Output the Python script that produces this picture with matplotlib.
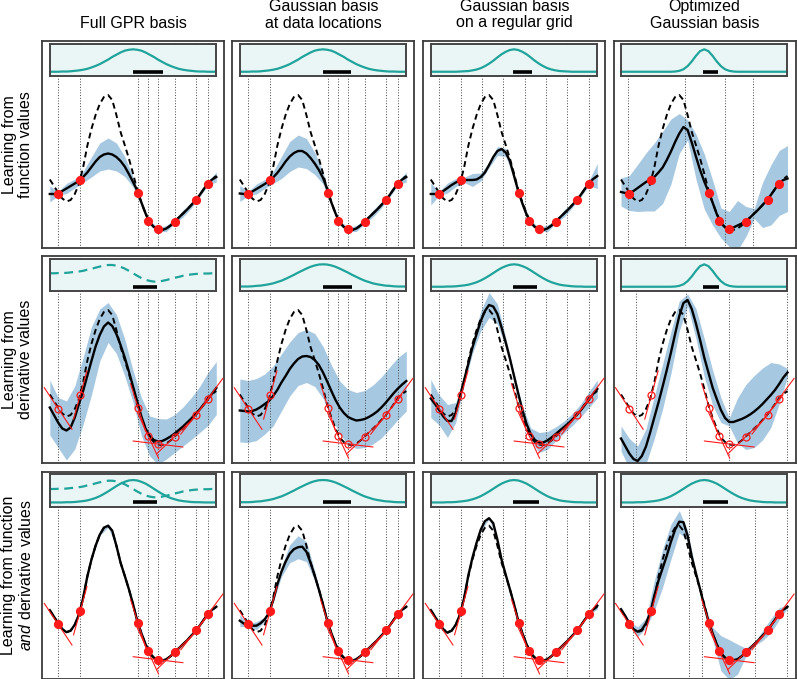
import numpy as np
import matplotlib.pyplot as plt

plt.rcParams['font.family'] = ['Liberation Sans', 'DejaVu Sans']
plt.rcParams['mathtext.fontset'] = 'custom'
plt.rcParams['mathtext.rm'] = 'Liberation Sans'
plt.rcParams['mathtext.it'] = 'Liberation Sans:italic'

X = np.linspace(0, 10, 41)
XS = X[::2]

COL_TITLES = ['Full GPR basis', 'Gaussian basis\nat data locations',
              'Gaussian basis\non a regular grid', 'Optimized\nGaussian basis']
ROW_LABELS = ['Learning from\nfunction values', 'Learning from\nderivative values',
              'Learning from function\n$\\mathit{and}$ derivative values']

# training data (same in every panel)
DATA_X = [0.5, 1.83, 5.3, 5.9, 6.5, 7.5, 8.8, 9.5]
DATA_Y = [0.73, 1.00, 0.75, 0.19, 0.02, 0.17, 0.61, 0.93]
DATA_SLOPE = [-0.5, 1.2, -1.05, -0.72, -0.04, 0.32, 0.42, 0.45]

# basis centres (dotted lines)
GRID_X = [0.5, 1.79, 3.07, 4.36, 5.64, 6.93, 8.21, 9.5]
OPT_X_1 = [0.44, 3.84, 6.27, 7.93]
OPT_X_2 = [0.9, 3.9, 6.5, 9.97]
OPT_X_3 = [0.7, 4.06, 4.87, 8.02, 9.98]

TRUE_F = [1.01, 0.88, 0.75, 0.63, 0.57, 0.60, 0.72, 0.92, 1.25, 1.68,
          2.02, 2.30, 2.52, 2.66, 2.70, 2.60, 2.30, 1.96, 1.70, 1.43,
          1.13, 0.80, 0.55, 0.33, 0.15, 0.06, 0.01, 0.00, 0.03, 0.09,
          0.17, 0.25, 0.33, 0.41, 0.50, 0.59, 0.70, 0.82, 0.94, 1.02,
          1.08]

MEAN_11 = [0.72, 0.72, 0.73, 0.78, 0.83, 0.88, 0.93, 0.98, 1.06, 1.15,
           1.26, 1.37, 1.46, 1.51, 1.53, 1.51, 1.46, 1.38, 1.27, 1.12,
           0.96, 0.79, 0.55, 0.33, 0.15, 0.06, 0.01, 0.00, 0.03, 0.09,
           0.17, 0.25, 0.33, 0.41, 0.50, 0.59, 0.70, 0.82, 0.94, 1.01,
           1.06]
SD_11 = [0.16, 0.04, 0.10, 0.09, 0.11, 0.20, 0.28, 0.31, 0.28, 0.20,
         0.10, 0.04, 0.04, 0.04, 0.06, 0.04, 0.07, 0.06, 0.04, 0.04,
         0.10]

MEAN_12 = [0.73, 0.72, 0.73, 0.77, 0.82, 0.87, 0.92, 0.98, 1.05, 1.14,
           1.25, 1.37, 1.47, 1.54, 1.58, 1.58, 1.53, 1.44, 1.33, 1.20,
           1.04, 0.82, 0.55, 0.33, 0.15, 0.06, 0.01, 0.00, 0.03, 0.09,
           0.17, 0.25, 0.33, 0.41, 0.50, 0.59, 0.70, 0.82, 0.94, 1.01,
           1.06]
SD_12 = [0.16, 0.04, 0.10, 0.09, 0.12, 0.22, 0.30, 0.32, 0.30, 0.22,
         0.12, 0.04, 0.04, 0.04, 0.06, 0.04, 0.07, 0.06, 0.04, 0.04,
         0.10]

MEAN_13 = [0.72, 0.72, 0.73, 0.78, 0.84, 0.90, 0.95, 0.99, 1.00, 1.00,
           1.00, 1.01, 1.06, 1.15, 1.30, 1.46, 1.58, 1.62, 1.55, 1.38,
           1.08, 0.78, 0.53, 0.31, 0.15, 0.06, 0.02, 0.00, 0.03, 0.09,
           0.17, 0.25, 0.33, 0.41, 0.50, 0.59, 0.70, 0.82, 0.94, 1.02,
           1.08]
SD_13 = [0.22, 0.04, 0.10, 0.08, 0.05, 0.13, 0.08, 0.05, 0.09, 0.08,
         0.05, 0.04, 0.04, 0.03, 0.07, 0.03, 0.07, 0.05, 0.04, 0.05,
         0.25]

MEAN_14 = [0.76, 0.74, 0.74, 0.78, 0.84, 0.90, 0.96, 1.00, 1.06, 1.15,
           1.25, 1.40, 1.57, 1.76, 1.93, 2.06, 2.00, 1.75, 1.47, 1.20,
           0.97, 0.77, 0.55, 0.32, 0.14, 0.05, 0.02, 0.05, 0.09, 0.13,
           0.17, 0.25, 0.33, 0.41, 0.50, 0.59, 0.70, 0.82, 0.94, 1.00,
           1.03]
SD_14 = [0.28, 0.35, 0.47, 0.58, 0.68, 0.72, 0.65, 0.40, 0.20, 0.45,
         0.55, 0.45, 0.30, 0.35, 0.50, 0.30, 0.10, 0.45, 0.60, 0.65,
         0.66]

MEAN_21 = [0.75, 0.60, 0.45, 0.33, 0.29, 0.35, 0.55, 0.82, 1.08, 1.38,
           1.68, 1.97, 2.20, 2.37, 2.45, 2.38, 2.22, 2.00, 1.75, 1.47,
           1.17, 0.87, 0.57, 0.33, 0.18, 0.10, 0.07, 0.08, 0.12, 0.17,
           0.23, 0.30, 0.37, 0.45, 0.53, 0.62, 0.71, 0.81, 0.92, 1.03,
           1.14]
SD_21 = [0.55, 0.50, 0.59, 0.63, 0.67, 0.68, 0.52, 0.40, 0.39, 0.37,
         0.32, 0.38, 0.40, 0.46, 0.40, 0.38, 0.39, 0.42, 0.46, 0.53,
         0.53]

MEAN_22 = [0.69, 0.68, 0.67, 0.68, 0.71, 0.76, 0.82, 0.88, 0.98, 1.10,
           1.25, 1.38, 1.52, 1.63, 1.72, 1.77, 1.78, 1.76, 1.70, 1.60,
           1.45, 1.27, 1.08, 0.90, 0.75, 0.64, 0.56, 0.52, 0.49, 0.50,
           0.52, 0.56, 0.61, 0.67, 0.75, 0.84, 0.94, 1.04, 1.13, 1.21,
           1.28]
SD_22 = [0.63, 0.62, 0.62, 0.60, 0.60, 0.57, 0.54, 0.53, 0.53, 0.53,
         0.52, 0.52, 0.53, 0.55, 0.56, 0.57, 0.59, 0.61, 0.62, 0.62,
         0.60]

MEAN_23 = [0.93, 0.82, 0.70, 0.57, 0.48, 0.48, 0.65, 0.97, 1.30, 1.62,
           1.95, 2.22, 2.48, 2.68, 2.80, 2.77, 2.62, 2.35, 2.05, 1.73,
           1.38, 1.03, 0.70, 0.42, 0.22, 0.10, 0.05, 0.05, 0.09, 0.15,
           0.22, 0.29, 0.36, 0.43, 0.51, 0.60, 0.69, 0.80, 0.91, 1.02,
           1.12]
SD_23 = [0.38, 0.30, 0.33, 0.20, 0.10, 0.12, 0.20, 0.25, 0.20, 0.10,
         0.06, 0.08, 0.12, 0.20, 0.18, 0.14, 0.12, 0.12, 0.13, 0.16,
         0.18]

MEAN_24 = [0.13, -0.02, -0.17, -0.28, -0.32, -0.22, -0.03, 0.25, 0.55, 0.85,
           1.17, 1.50, 1.85, 2.22, 2.58, 2.84, 2.90, 2.72, 2.43, 2.10,
           1.75, 1.45, 1.15, 0.92, 0.70, 0.54, 0.46, 0.46, 0.49, 0.52,
           0.56, 0.61, 0.67, 0.74, 0.82, 0.91, 1.00, 1.10, 1.22, 1.35,
           1.45]
SD_24 = [0.25, 0.30, 0.30, 0.35, 0.42, 0.45, 0.42, 0.30, 0.12, 0.30,
         0.38, 0.35, 0.25, 0.08, 0.45, 0.65, 0.72, 0.72, 0.65, 0.40,
         0.08]

MEAN_31 = TRUE_F
SD_31 = [0.02, 0.01, 0.01, 0.01, 0.01, 0.01, 0.02, 0.03, 0.02, 0.01,
         0.01, 0.01, 0.01, 0.01, 0.01, 0.01, 0.01, 0.01, 0.01, 0.01,
         0.02]

MEAN_32 = [0.80, 0.74, 0.72, 0.70, 0.70, 0.75, 0.83, 0.95, 1.20, 1.52,
           1.78, 1.98, 2.14, 2.23, 2.27, 2.28, 2.18, 1.96, 1.70, 1.42,
           1.12, 0.80, 0.55, 0.33, 0.15, 0.06, 0.01, 0.00, 0.03, 0.09,
           0.17, 0.25, 0.33, 0.41, 0.50, 0.59, 0.70, 0.82, 0.94, 1.02,
           1.08]
SD_32 = [0.12, 0.03, 0.08, 0.04, 0.03, 0.10, 0.18, 0.23, 0.20, 0.10,
         0.03, 0.01, 0.01, 0.01, 0.01, 0.01, 0.01, 0.01, 0.01, 0.01,
         0.02]

MEAN_33 = [1.01, 0.88, 0.75, 0.62, 0.56, 0.60, 0.72, 0.92, 1.25, 1.70,
           2.06, 2.36, 2.62, 2.79, 2.85, 2.75, 2.42, 2.02, 1.72, 1.43,
           1.13, 0.80, 0.55, 0.33, 0.15, 0.06, 0.01, 0.00, 0.03, 0.09,
           0.17, 0.25, 0.33, 0.41, 0.50, 0.59, 0.70, 0.82, 0.94, 1.02,
           1.10]
SD_33 = [0.05, 0.01, 0.02, 0.01, 0.01, 0.01, 0.02, 0.02, 0.02, 0.01,
         0.01, 0.01, 0.01, 0.01, 0.01, 0.01, 0.01, 0.01, 0.01, 0.01,
         0.07]

MEAN_34 = [1.03, 0.90, 0.75, 0.63, 0.58, 0.62, 0.75, 0.95, 1.30, 1.60,
           1.85, 2.10, 2.38, 2.62, 2.78, 2.77, 2.50, 2.08, 1.75, 1.43,
           1.10, 0.79, 0.55, 0.33, 0.15, 0.06, 0.02, 0.01, 0.03, 0.09,
           0.17, 0.25, 0.33, 0.41, 0.50, 0.59, 0.70, 0.82, 0.94, 1.02,
           1.08]
SD_34 = [0.03, 0.03, 0.10, 0.10, 0.30, 0.38, 0.35, 0.22, 0.10, 0.04,
         0.03, 0.12, 0.35, 0.40, 0.30, 0.08, 0.03, 0.10, 0.14, 0.12,
         0.03]

# basis functions shown in the insets (relative height, same x grid)
BASIS_WIDE = [0.01, 0.01, 0.01, 0.02, 0.04, 0.05, 0.08, 0.11, 0.15, 0.21,
              0.27, 0.35, 0.44, 0.53, 0.63, 0.72, 0.81, 0.89, 0.95, 0.99,
              1.00, 0.99, 0.95, 0.89, 0.81, 0.72, 0.63, 0.53, 0.44, 0.35,
              0.27, 0.21, 0.15, 0.11, 0.08, 0.05, 0.04, 0.02, 0.01, 0.01,
              0.01]
BASIS_GPR = [0.00, 0.00, 0.00, 0.01, 0.01, 0.02, 0.04, 0.06, 0.09, 0.13,
             0.19, 0.26, 0.34, 0.44, 0.54, 0.66, 0.76, 0.86, 0.94, 0.98,
             1.00, 0.98, 0.94, 0.86, 0.76, 0.66, 0.54, 0.44, 0.34, 0.26,
             0.19, 0.13, 0.09, 0.06, 0.04, 0.02, 0.01, 0.01, 0.00, 0.00,
             0.00]
BASIS_MID = [0.00, 0.00, 0.00, 0.00, 0.01, 0.01, 0.02, 0.04, 0.06, 0.09,
             0.14, 0.20, 0.28, 0.38, 0.49, 0.61, 0.73, 0.84, 0.92, 0.98,
             1.00, 0.98, 0.92, 0.84, 0.73, 0.61, 0.49, 0.38, 0.28, 0.20,
             0.14, 0.09, 0.06, 0.04, 0.02, 0.01, 0.01, 0.00, 0.00, 0.00,
             0.00]
BASIS_GRID = [0.00, 0.00, 0.00, 0.00, 0.00, 0.00, 0.00, 0.01, 0.02, 0.03,
              0.06, 0.10, 0.16, 0.25, 0.36, 0.49, 0.64, 0.78, 0.89, 0.97,
              1.00, 0.97, 0.89, 0.78, 0.64, 0.49, 0.36, 0.25, 0.16, 0.10,
              0.06, 0.03, 0.02, 0.01, 0.00, 0.00, 0.00, 0.00, 0.00, 0.00,
              0.00]
BASIS_NARROW = [0.00, 0.00, 0.00, 0.00, 0.00, 0.00, 0.00, 0.00, 0.00, 0.00,
                0.00, 0.00, 0.00, 0.01, 0.04, 0.11, 0.25, 0.46, 0.71, 0.92,
                1.00, 0.92, 0.71, 0.46, 0.25, 0.11, 0.04, 0.01, 0.00, 0.00,
                0.00, 0.00, 0.00, 0.00, 0.00, 0.00, 0.00, 0.00, 0.00, 0.00,
                0.00]
BASIS_DERIV = [0.60, 0.60, 0.61, 0.61, 0.62, 0.64, 0.66, 0.68, 0.71, 0.76,
               0.80, 0.85, 0.90, 0.94, 0.97, 0.97, 0.94, 0.89, 0.81, 0.71,
               0.60, 0.49, 0.39, 0.31, 0.26, 0.23, 0.23, 0.26, 0.30, 0.35,
               0.40, 0.44, 0.49, 0.52, 0.55, 0.57, 0.58, 0.59, 0.59, 0.60,
               0.60]

# length-scale bars in the insets (start, end)
BARS = [[(5.0, 6.77), (5.0, 6.7), (4.95, 6.05), (4.9, 5.85)],
        [(5.0, 6.44), (5.0, 6.73), (4.95, 6.38), (4.9, 5.9)],
        [(5.0, 6.44), (5.0, 6.7), (4.95, 6.5), (4.9, 6.4)]]

# panel table: mean, sd, basis lines, solid inset curve, dashed inset curve
PANELS = [
    [(MEAN_11, SD_11, DATA_X, BASIS_GPR, None),
     (MEAN_12, SD_12, DATA_X, BASIS_GPR, None),
     (MEAN_13, SD_13, GRID_X, BASIS_GRID, None),
     (MEAN_14, SD_14, OPT_X_1, BASIS_NARROW, None)],
    [(MEAN_21, SD_21, DATA_X, None, BASIS_DERIV),
     (MEAN_22, SD_22, DATA_X, BASIS_WIDE, None),
     (MEAN_23, SD_23, GRID_X, BASIS_MID, None),
     (MEAN_24, SD_24, OPT_X_2, BASIS_NARROW, None)],
    [(MEAN_31, SD_31, DATA_X, BASIS_MID, BASIS_DERIV),
     (MEAN_32, SD_32, DATA_X, BASIS_WIDE, None),
     (MEAN_33, SD_33, GRID_X, BASIS_MID, None),
     (MEAN_34, SD_34, OPT_X_3, BASIS_MID, None)],
]

W, H = 797, 679
BAND = '#a7c8e1'
TEAL = '#1fa39a'
RED = '#ff1a1a'

fig = plt.figure(figsize=(W / 100, H / 100), dpi=100)

lefts = [42.3, 232.3, 423.3, 613.5]
tops = [41, 256, 471.7]
pw, ph = 182, 207
px_x = 16.65   # pixels per x unit
px_y = 50.0    # pixels per y unit

for r in range(3):
    for c in range(4):
        mean, sd, lines, basis, dashed = PANELS[r][c]
        mean = np.array(mean)
        sd = np.array(sd)
        ax = fig.add_axes([lefts[c] / W, 1 - (tops[r] + ph) / H, pw / W, ph / H])
        ax.set_xlim(-7.5 / px_x, (pw - 7.5) / px_x)
        ax.set_ylim(3.78 - ph / px_y, 3.78)
        ax.set_xticks([])
        ax.set_yticks([])
        for s in ax.spines.values():
            s.set_color('#3c3c3c')
            s.set_linewidth(1.3)

        ax.fill_between(XS, mean[::2] - sd, mean[::2] + sd, color=BAND, lw=0, zorder=1)
        for xv in lines:
            ax.axvline(xv, color='#444444', lw=0.7, ls=(0, (1, 1.8)), zorder=1.5)
        ax.plot(X, TRUE_F, color='k', lw=1.4, ls=(0, (3, 2)), zorder=3)
        ax.plot(X, mean, color='k', lw=1.7, zorder=4)

        if r > 0:
            # tangent segments of fixed on-screen length
            for xp, yp, sl in zip(DATA_X, DATA_Y, DATA_SLOPE):
                slope_px = sl * px_y / px_x
                dx = 25 / np.sqrt(1 + slope_px ** 2) / px_x
                ax.plot([xp - dx, xp + dx], [yp - sl * dx, yp + sl * dx],
                        color=RED, lw=0.8, zorder=5)
        if r == 1:
            ax.plot(DATA_X, DATA_Y, 'o', ms=5, mfc='none', mec=RED, mew=0.9, zorder=6)
        else:
            ax.plot(DATA_X, DATA_Y, 'o', ms=5.6, color=RED, mec=RED, zorder=6)

        ins = ax.inset_axes([7.5 / pw, 1 - 35 / ph, 166.5 / pw, 32.5 / ph])
        ins.set_facecolor('#eaf6f6')
        ins.set_xlim(0, 10)
        ins.set_ylim(-0.19, 1.26)
        ins.set_xticks([])
        ins.set_yticks([])
        for s in ins.spines.values():
            s.set_color('#454545')
            s.set_linewidth(1.4)
        if basis is not None:
            ins.plot(X, basis, color=TEAL, lw=1.6)
        if dashed is not None:
            ins.plot(X, dashed, color=TEAL, lw=1.6, ls=(0, (4, 2.5)))
        b0, b1 = BARS[r][c]
        ins.plot([b0, b1], [0, 0], color='k', lw=2.6, solid_capstyle='butt')

for c, title in enumerate(COL_TITLES):
    fig.text((lefts[c] + pw / 2) / W, 1 - 30.5 / H, title, ha='center', va='bottom',
             fontsize=11.5, linespacing=1.15)

for r, label in enumerate(ROW_LABELS):
    fig.text(17.5 / W, 1 - (tops[r] + ph / 2) / H, label, ha='center', va='center',
             rotation=90, fontsize=11.5, linespacing=1.1, multialignment='center')

fig.savefig('out.png', dpi=100)
